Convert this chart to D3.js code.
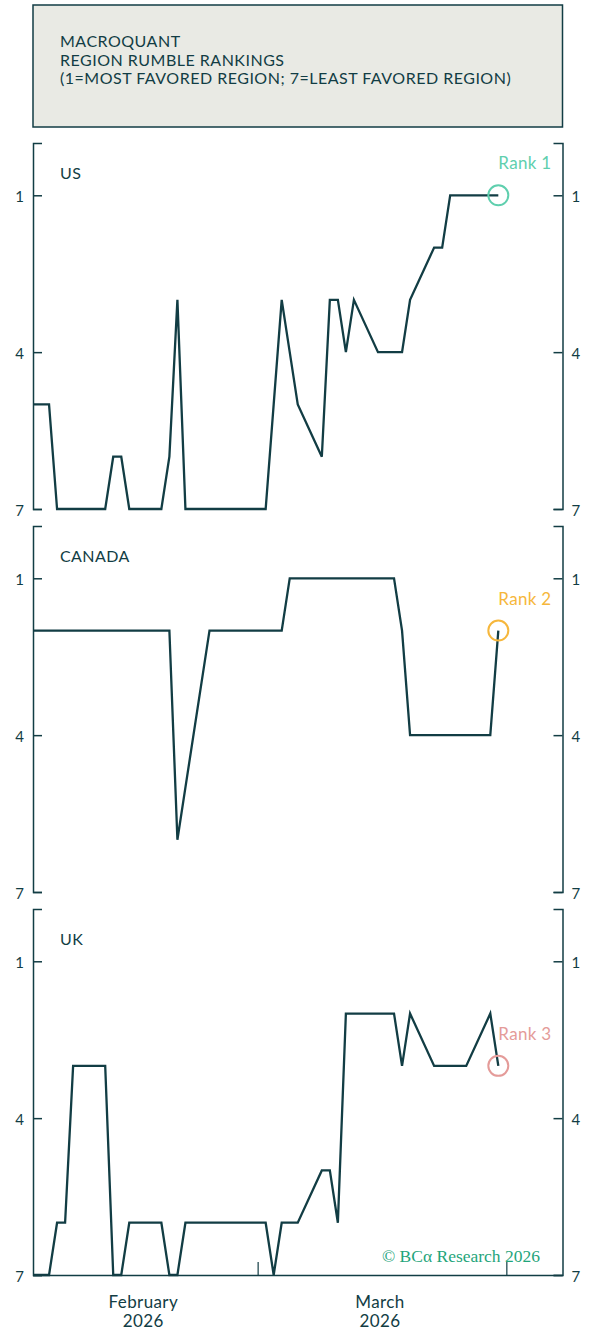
<!DOCTYPE html>
<html>
<head>
<meta charset="utf-8">
<script src="https://cdn.jsdelivr.net/npm/d3@7"></script>
<style>
  body { margin: 0; background: #fff; }
  text { font-family: Lato, "Open Sans", sans-serif; }
</style>
</head>
<body>
<svg id="chart"></svg>
<script>
// weekday observations (Jan 30 sits just left of the axis and is clipped)
var dates = ["2026-01-30",
  "2026-02-02","2026-02-03","2026-02-04","2026-02-05","2026-02-06",
  "2026-02-09","2026-02-10","2026-02-11","2026-02-12","2026-02-13",
  "2026-02-16","2026-02-17","2026-02-18","2026-02-19","2026-02-20",
  "2026-02-23","2026-02-24","2026-02-25","2026-02-26","2026-02-27",
  "2026-03-02","2026-03-03","2026-03-04","2026-03-05","2026-03-06",
  "2026-03-09","2026-03-10","2026-03-11","2026-03-12","2026-03-13",
  "2026-03-16","2026-03-17","2026-03-18","2026-03-19","2026-03-20",
  "2026-03-23","2026-03-24","2026-03-25","2026-03-26","2026-03-27",
  "2026-03-30","2026-03-31"];

var usRanks = [5,
  5,5,7,7,7,
  7,7,6,6,7,
  7,7,6,3,7,
  7,7,7,7,7,
  7,5,3,4,5,
  6,3,3,4,3,
  4,4,4,4,3,
  2,2,1,1,1,
  1,1];

var canadaRanks = [2,
  2,2,2,2,2,
  2,2,2,2,2,
  2,2,2,6,5,
  2,2,2,2,2,
  2,2,2,1,1,
  1,1,1,1,1,
  1,1,1,2,4,
  4,4,4,4,4,
  4,2];

var ukRanks = [7,
  7,7,6,6,3,
  3,3,7,7,6,
  6,6,7,7,6,
  6,6,6,6,6,
  6,7,6,6,6,
  5,5,6,2,2,
  2,2,2,3,2,
  3,3,3,3,3,
  2,3];

var regions = ["US", "CANADA", "UK"];
var rankLabels = ["Rank 1", "Rank 2", "Rank 3"];
var rankColors = ["#5fcfae", "#f6b73c", "#e49b99"];
var rankTicks = [1, 4, 7];
var monthLabels = ["February", "March"];
var titleLines = ["MACROQUANT", "REGION RUMBLE RANKINGS", "(1=MOST FAVORED REGION; 7=LEAST FAVORED REGION)"];

var series = [usRanks, canadaRanks, ukRanks];

var width = 592;
var height = 1331;
var ink = "#123d44";
var left = 33, right = 562.5;
var panelTops = [143, 526, 909];
var panelH = 366;

var parse = d3.timeParse("%Y-%m-%d");
var svg = d3.select("#chart").attr("width", width).attr("height", height);

// title box
svg.append("rect")
   .attr("x", left).attr("y", 5)
   .attr("width", right - left).attr("height", 122)
   .attr("fill", "#e9eae4")
   .attr("stroke", ink)
   .attr("stroke-width", 1.5);

svg.selectAll(".title")
   .data(titleLines)
   .enter()
   .append("text")
   .attr("class", "title")
   .attr("x", 60)
   .attr("y", (d, i) => 47 + i * 18.5)
   .attr("fill", ink)
   .style("font-size", "16px")
   .style("letter-spacing", "0.5px")
   .text(d => d);

var xScale = d3.scaleTime()
               .domain([new Date(2026, 1, 1), new Date(2026, 3, 8)])
               .range([left, right]);

var line = d3.line()
             .x(d => xScale(d.date))
             .y(d => d.y);

regions.forEach(function(region, p) {
  var top = panelTops[p];
  var yScale = d3.scaleLinear().domain([0, 7]).range([top, top + panelH]);

  var g = svg.append("g").attr("class", "panel");

  g.append("clipPath").attr("id", "clip" + p)
   .append("rect")
   .attr("x", left).attr("y", top - 5)
   .attr("width", right - left).attr("height", panelH + 10);

  var yLeft = d3.axisLeft(yScale).tickValues(rankTicks).tickFormat(d3.format("d"))
                .tickSizeInner(-9).tickSizeOuter(-9).tickPadding(9);
  var yRight = d3.axisRight(yScale).tickValues(rankTicks).tickFormat(d3.format("d"))
                 .tickSizeInner(-9).tickSizeOuter(-9).tickPadding(9);

  [g.append("g").attr("transform", "translate(" + left + ",0)").call(yLeft),
   g.append("g").attr("transform", "translate(" + right + ",0)").call(yRight)]
    .forEach(function(ax) {
      ax.select(".domain").attr("stroke", ink).attr("stroke-width", 1.5);
      ax.selectAll(".tick line").attr("stroke", ink).attr("stroke-width", 1.5);
      ax.selectAll(".tick text").attr("fill", ink)
        .style("font-size", "15px").style("font-family", "Lato, sans-serif")
        .attr("dy", "0.4em");
    });

  // region name
  g.append("text")
   .attr("x", 60)
   .attr("y", top + 36)
   .attr("fill", ink)
   .style("font-size", "16px")
   .style("letter-spacing", "0.4px")
   .text(region);

  var pts = dates.map((d, i) => ({date: parse(d), y: yScale(series[p][i])}));

  g.append("path")
   .datum(pts)
   .attr("clip-path", "url(#clip" + p + ")")
   .attr("fill", "none")
   .attr("stroke", ink)
   .attr("stroke-width", 2.3)
   .attr("d", line);

  var last = pts[pts.length - 1];
  g.append("circle")
   .attr("cx", xScale(last.date))
   .attr("cy", last.y)
   .attr("r", 10)
   .attr("fill", "none")
   .attr("stroke", rankColors[p])
   .attr("stroke-width", 2);

  g.append("text")
   .attr("x", xScale(last.date))
   .attr("y", last.y - 26)
   .attr("fill", rankColors[p])
   .style("font-size", "17px")
   .style("letter-spacing", "0.3px")
   .text(rankLabels[p]);

  if (p == regions.length - 1) {
    var xAxis = d3.axisBottom(xScale)
                  .tickValues([new Date(2026, 2, 1), new Date(2026, 3, 1)])
                  .tickSizeInner(-13).tickSizeOuter(0)
                  .tickFormat("");
    var xg = g.append("g")
              .attr("transform", "translate(0," + (top + panelH) + ")")
              .call(xAxis);
    xg.select(".domain").attr("stroke", ink).attr("stroke-width", 1.5);
    xg.selectAll(".tick line").attr("stroke", ink).attr("stroke-width", 1.2);

    var months = [new Date(2026, 1, 1), new Date(2026, 2, 1), new Date(2026, 3, 1)];
    monthLabels.forEach(function(m, i) {
      var mid = xScale(new Date((months[i].getTime() + months[i + 1].getTime()) / 2)) - 2;
      var t = g.append("text")
               .attr("text-anchor", "middle")
               .attr("fill", ink)
               .style("font-size", "17px")
               .style("letter-spacing", "0.4px")
               .attr("x", mid)
               .attr("y", top + panelH + 33);
      t.append("tspan").attr("x", mid).text(m);
      t.append("tspan").attr("x", mid).attr("dy", 19).text("2026");
    });

    g.append("text")
     .attr("x", 540)
     .attr("y", top + panelH - 13)
     .attr("text-anchor", "end")
     .attr("fill", "#1fa57b")
     .style("font-family", "'Liberation Serif', serif")
     .style("font-size", "17.5px")
     .text("© BCα Research 2026");
  }
});
</script>
</body>
</html>
